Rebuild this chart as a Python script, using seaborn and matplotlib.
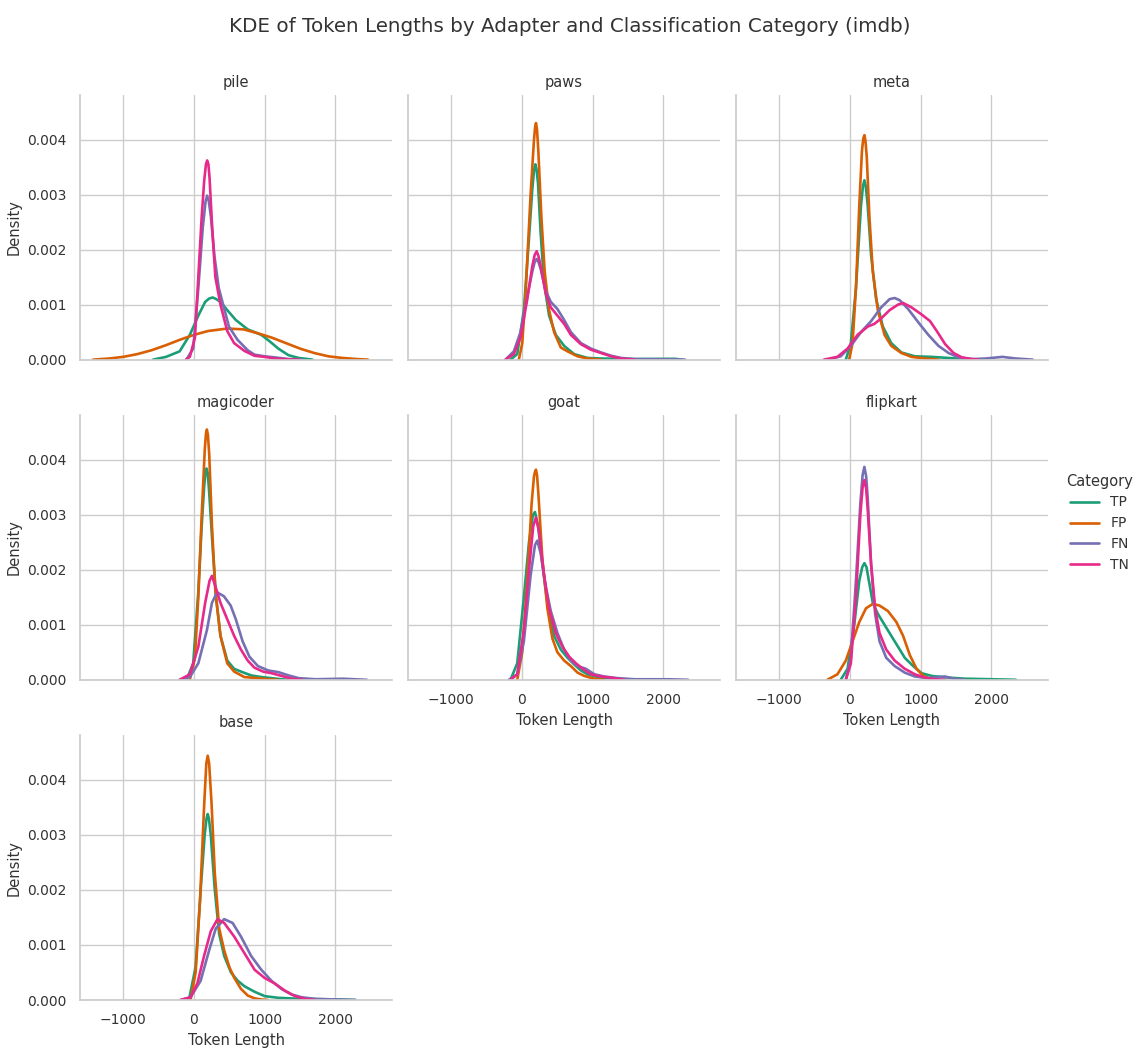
import pandas as pd
import matplotlib
matplotlib.use("Agg")
import matplotlib.pyplot as plt
import seaborn as sns

sns.set_theme(style="whitegrid", rc={
    "xtick.labelsize": 10, "ytick.labelsize": 10,
    "axes.labelsize": 10.5, "axes.titlesize": 10,
    "legend.fontsize": 10, "legend.title_fontsize": 10.5,
    "text.color": "0.2", "axes.labelcolor": "0.2",
    "xtick.color": "0.2", "ytick.color": "0.2",
})

adapters = ["pile", "paws", "meta", "magicoder", "goat", "flipkart", "base"]
categories = ["TP", "FP", "FN", "TN"]
palette = {"TP": "#1b9e77", "FP": "#d95f02", "FN": "#7570b3", "TN": "#e7298a"}

# density curves: (token length, density x 1e-3)
pile = {
    "TP": ([-577, -394, -202, -58, 62, 159, 215, 265, 315, 375, 471, 592, 760, 952, 1073, 1193, 1337, 1481, 1674],
           [0, 0.05, 0.15, 0.45, 0.8, 1.05, 1.11, 1.13, 1.1, 1.05, 0.9, 0.72, 0.55, 0.45, 0.33, 0.2, 0.08, 0.03, 0]),
    "FP": ([-1425, -1200, -1000, -800, -600, -400, -200, 0, 200, 470, 700, 900, 1100, 1300, 1500, 1700, 1900, 2100, 2300, 2460],
           [0, 0.02, 0.05, 0.1, 0.17, 0.26, 0.36, 0.45, 0.52, 0.565, 0.55, 0.48, 0.4, 0.3, 0.2, 0.12, 0.06, 0.03, 0.01, 0]),
    "FN": ([-106, -10, 62, 125, 165, 187, 210, 240, 288, 351, 423, 495, 616, 760, 856, 1000, 1145, 1337, 1530],
           [0, 0.2, 1.3, 2.4, 2.88, 2.98, 2.88, 2.6, 1.9, 1.3, 0.95, 0.6, 0.36, 0.17, 0.09, 0.06, 0.04, 0.01, 0]),
    "TN": ([-115, -58, 14, 62, 110, 145, 170, 187, 205, 221, 255, 303, 375, 471, 568, 712, 856, 1000, 1145, 1337, 1481],
           [0, 0.05, 0.4, 1.5, 2.6, 3.25, 3.55, 3.62, 3.55, 3.3, 2.47, 1.5, 1.0, 0.52, 0.3, 0.16, 0.07, 0.05, 0.02, 0.005, 0]),
}
paws = {
    "TP": ([-161, -66, 28, 100, 147, 172, 190, 208, 228, 265, 313, 384, 479, 597, 739, 929, 1119, 1593, 2160, 2256],
           [0, 0.1, 0.9, 2.2, 3.1, 3.45, 3.55, 3.45, 3.2, 2.3, 1.4, 0.8, 0.45, 0.25, 0.1, 0.03, 0.02, 0.01, 0.015, 0]),
    "FP": ([-43, 5, 52, 123, 171, 186, 199, 214, 232, 275, 322, 384, 455, 550, 645, 787, 929, 1119],
           [0, 0.3, 1.2, 3.0, 4.0, 4.22, 4.3, 4.18, 3.8, 2.6, 1.6, 0.9, 0.5, 0.22, 0.15, 0.06, 0.02, 0]),
    "FN": ([-232, -114, -19, 76, 147, 180, 209, 235, 265, 337, 408, 502, 597, 692, 834, 976, 1119, 1261, 1403, 1593, 2067, 2304],
           [0, 0.15, 0.5, 1.15, 1.6, 1.77, 1.83, 1.77, 1.65, 1.25, 1.05, 0.92, 0.72, 0.5, 0.3, 0.2, 0.13, 0.07, 0.03, 0.01, 0.005, 0]),
    "TN": ([-232, -114, -19, 76, 147, 180, 209, 235, 265, 337, 408, 502, 597, 692, 834, 976, 1119, 1261, 1403, 1593],
           [0, 0.1, 0.4, 1.1, 1.7, 1.9, 1.97, 1.88, 1.7, 1.2, 0.95, 0.8, 0.65, 0.45, 0.28, 0.18, 0.12, 0.06, 0.02, 0]),
}
meta = {
    "TP": ([-57, 14, 86, 157, 185, 205, 225, 252, 300, 371, 466, 585, 728, 919, 1157, 1395, 1633, 1728],
           [0, 0.3, 1.3, 2.8, 3.15, 3.26, 3.15, 2.8, 1.9, 1.1, 0.6, 0.3, 0.13, 0.06, 0.05, 0.03, 0.01, 0]),
    "FP": ([-10, 38, 86, 133, 171, 190, 205, 220, 238, 276, 324, 395, 490, 585, 728, 871, 1062, 1252],
           [0, 0.3, 1.3, 2.8, 3.8, 4.02, 4.08, 3.98, 3.7, 2.6, 1.6, 0.9, 0.45, 0.25, 0.12, 0.05, 0.02, 0]),
    "FN": ([-319, -129, 14, 157, 300, 443, 562, 633, 704, 823, 966, 1109, 1252, 1395, 1538, 1728, 1918, 2156, 2347, 2585],
           [0, 0.06, 0.25, 0.5, 0.7, 0.95, 1.1, 1.12, 1.08, 0.92, 0.68, 0.45, 0.25, 0.12, 0.04, 0.01, 0.02, 0.05, 0.02, 0]),
    "TN": ([-367, -176, -33, 109, 252, 347, 443, 562, 681, 752, 871, 1014, 1133, 1228, 1347, 1466, 1585, 1728, 1823],
           [0, 0.05, 0.2, 0.45, 0.6, 0.65, 0.75, 0.9, 1.0, 1.03, 0.95, 0.82, 0.7, 0.52, 0.28, 0.12, 0.04, 0.01, 0]),
}
magicoder = {
    "TP": ([-106, -10, 62, 110, 144, 162, 178, 196, 216, 265, 313, 375, 471, 568, 664, 808, 952, 1097, 1241, 1337],
           [0, 0.3, 1.6, 2.8, 3.5, 3.75, 3.84, 3.75, 3.4, 2.4, 1.5, 0.8, 0.35, 0.2, 0.15, 0.08, 0.05, 0.03, 0.01, 0]),
    "FP": ([-58, 14, 62, 110, 154, 170, 183, 198, 216, 255, 303, 375, 471, 568, 712, 904, 1049, 1193],
           [0, 0.4, 1.5, 3.0, 4.2, 4.47, 4.55, 4.45, 4.1, 2.8, 1.6, 0.8, 0.3, 0.15, 0.05, 0.03, 0.01, 0]),
    "FN": ([-202, -58, 62, 183, 255, 327, 423, 519, 592, 688, 784, 904, 1049, 1193, 1337, 1481, 1722, 2107, 2443],
           [0, 0.05, 0.3, 0.9, 1.4, 1.59, 1.52, 1.35, 1.1, 0.7, 0.42, 0.25, 0.17, 0.14, 0.08, 0.03, 0.01, 0.02, 0]),
    "TN": ([-202, -58, 62, 159, 221, 255, 303, 375, 471, 568, 664, 760, 856, 976, 1097, 1241, 1385, 1530],
           [0, 0.1, 0.6, 1.4, 1.8, 1.89, 1.7, 1.4, 1.1, 0.8, 0.55, 0.35, 0.22, 0.15, 0.12, 0.07, 0.02, 0]),
}
goat = {
    "TP": ([-161, -66, 28, 100, 156, 185, 228, 289, 360, 455, 550, 645, 739, 834, 929, 1071, 1213, 1403, 1545],
           [0, 0.3, 1.5, 2.5, 3.0, 3.05, 2.8, 2.1, 1.4, 0.8, 0.55, 0.4, 0.28, 0.17, 0.1, 0.05, 0.03, 0.01, 0]),
    "FP": ([-66, 5, 76, 137, 171, 185, 199, 214, 232, 289, 360, 431, 502, 597, 692, 787, 882, 1024, 1166],
           [0, 0.5, 1.8, 3.2, 3.7, 3.78, 3.82, 3.72, 3.4, 2.2, 1.3, 0.75, 0.5, 0.35, 0.25, 0.13, 0.07, 0.02, 0]),
    "FN": ([-185, -66, 28, 123, 185, 218, 265, 337, 408, 502, 597, 692, 787, 905, 1024, 1166, 1356, 1593, 2067, 2351],
           [0, 0.1, 0.7, 1.9, 2.45, 2.53, 2.3, 1.7, 1.25, 0.85, 0.55, 0.35, 0.25, 0.2, 0.1, 0.06, 0.03, 0.01, 0.01, 0]),
    "TN": ([-161, -66, 28, 100, 161, 199, 242, 313, 384, 479, 574, 668, 763, 858, 976, 1119, 1308, 1450],
           [0, 0.1, 0.9, 2.0, 2.8, 2.95, 2.7, 1.9, 1.3, 0.85, 0.6, 0.42, 0.3, 0.2, 0.1, 0.06, 0.03, 0]),
}
flipkart = {
    "TP": ([-129, -33, 62, 133, 175, 205, 235, 262, 324, 395, 490, 585, 681, 776, 895, 1014, 1157, 1395, 1633, 2014, 2347],
           [0, 0.2, 1.0, 1.8, 2.05, 2.12, 2.05, 1.85, 1.4, 1.2, 1.0, 0.8, 0.6, 0.4, 0.25, 0.12, 0.07, 0.04, 0.02, 0.01, 0]),
    "FP": ([-319, -176, -57, 38, 133, 228, 324, 419, 538, 657, 752, 847, 942, 1038, 1133, 1252],
           [0, 0.1, 0.35, 0.7, 1.05, 1.3, 1.38, 1.35, 1.25, 1.05, 0.8, 0.45, 0.2, 0.07, 0.02, 0]),
    "FN": ([-57, 14, 86, 148, 180, 205, 230, 252, 300, 357, 419, 514, 633, 776, 919, 1109, 1252, 1347, 1466, 1633],
           [0, 0.4, 1.8, 3.2, 3.72, 3.87, 3.7, 3.3, 2.1, 1.2, 0.7, 0.4, 0.25, 0.13, 0.06, 0.03, 0.05, 0.06, 0.02, 0]),
    "TN": ([-57, 14, 86, 148, 180, 205, 230, 252, 300, 357, 419, 514, 633, 776, 919, 1062, 1205, 1347],
           [0, 0.3, 1.5, 3.0, 3.5, 3.63, 3.48, 3.1, 2.1, 1.3, 0.85, 0.55, 0.35, 0.2, 0.1, 0.04, 0.01, 0]),
}
base = {
    "TP": ([-71, 24, 95, 152, 178, 195, 212, 238, 295, 357, 428, 524, 619, 714, 857, 1000, 1190, 1523, 2000, 2285],
           [0, 0.6, 2.0, 3.0, 3.3, 3.38, 3.3, 3.0, 2.0, 1.2, 0.8, 0.5, 0.35, 0.25, 0.15, 0.07, 0.04, 0.02, 0.01, 0]),
    "FP": ([-48, 24, 86, 143, 175, 195, 215, 248, 295, 357, 428, 500, 571, 666, 762, 857, 952, 1047],
           [0, 0.5, 1.8, 3.5, 4.3, 4.44, 4.3, 3.6, 2.3, 1.3, 0.9, 0.6, 0.4, 0.2, 0.08, 0.03, 0.01, 0]),
    "FN": ([-190, -48, 95, 214, 309, 428, 547, 666, 809, 952, 1095, 1238, 1380, 1523, 1714, 2000, 2285],
           [0, 0.05, 0.35, 0.9, 1.3, 1.47, 1.4, 1.15, 0.8, 0.55, 0.35, 0.2, 0.1, 0.05, 0.02, 0.01, 0]),
    "TN": ([-190, -48, 48, 143, 238, 333, 428, 571, 714, 857, 1000, 1142, 1285, 1428, 1571, 1714],
           [0, 0.05, 0.3, 0.8, 1.25, 1.47, 1.4, 1.15, 0.85, 0.55, 0.4, 0.3, 0.17, 0.07, 0.02, 0]),
}

panels = dict(zip(adapters, [pile, paws, meta, magicoder, goat, flipkart, base]))

rows = []
for adapter, curves in panels.items():
    for cat in categories:
        xs, ys = curves[cat]
        for x, y in zip(xs, ys):
            rows.append({"adapter": adapter, "Category": cat,
                         "Token Length": x, "Density": y * 1e-3})
df = pd.DataFrame(rows)

g = sns.relplot(
    data=df, x="Token Length", y="Density", hue="Category",
    hue_order=categories, palette=palette,
    col="adapter", col_order=adapters, col_wrap=3,
    kind="line", estimator=None, sort=True, linewidth=1.9,
    height=3.3, aspect=1.18,
)
g.set_titles("{col_name}")
g.set(xlim=(-1610, 2800), ylim=(0, 0.00481))
for ax in g.axes.flat:
    ax.set_xticks([-1000, 0, 1000, 2000])
    ax.set_yticks([0, 0.001, 0.002, 0.003, 0.004])

g.figure.set_size_inches(11.39, 10.5)
g.figure.subplots_adjust(left=80 / 1139, right=1048 / 1139,
                         top=1 - 95 / 1050, bottom=1 - 1000 / 1050,
                         wspace=0.051, hspace=0.21)
sns.move_legend(g, "center left", bbox_to_anchor=(0.925, 0.502), frameon=False,
                handlelength=2.1)
g.figure.suptitle("KDE of Token Lengths by Adapter and Classification Category (imdb)",
                  fontsize=14.3, y=0.984)

g.figure.savefig("out.png", dpi=100)
